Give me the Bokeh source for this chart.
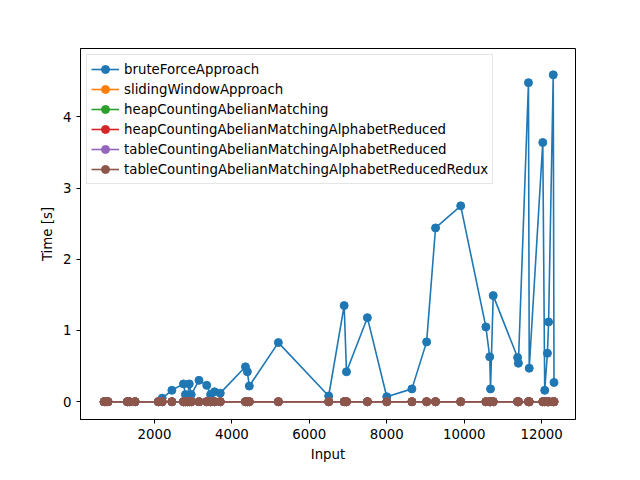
import bokeh.models
import bokeh.plotting
from bokeh.embed import file_html
from bokeh.resources import INLINE

inputs = [700, 750, 800, 1300, 1350, 1500, 2100, 2200, 2450, 2750, 2800, 2850, 2900, 2950,
          3150, 3350, 3450, 3550, 3700, 4350, 4400, 4450, 5200, 6500, 6900, 6960, 7500, 8000,
          8650, 9030, 9260, 9910, 10560, 10660, 10680, 10750, 11380, 11400, 11660, 11680,
          12030, 12080, 12150, 12180, 12300, 12320]
brute_force = [0, 0, 0, 0, 0, 0, 0, 0.05, 0.16, 0.25, 0.1, 0.05, 0.25, 0.1,
               0.3, 0.23, 0.1, 0.14, 0.12, 0.49, 0.42, 0.22, 0.83, 0.08, 1.35, 0.42, 1.18, 0.07,
               0.18, 0.84, 2.44, 2.75, 1.05, 0.63, 0.18, 1.49, 0.62, 0.54, 4.48, 0.47,
               3.64, 0.16, 0.68, 1.12, 4.59, 0.27]
zeros = [0.0] * len(inputs)

series_names = ["bruteForceApproach", "slidingWindowApproach", "heapCountingAbelianMatching",
                "heapCountingAbelianMatchingAlphabetReduced",
                "tableCountingAbelianMatchingAlphabetReduced",
                "tableCountingAbelianMatchingAlphabetReducedRedux"]
series_values = [brute_force, zeros, zeros, zeros, zeros, zeros]
colors = "#1f77b4 #ff7f0e #2ca02c #d62728 #9467bd #8c564b".split()

p = bokeh.plotting.figure(
    width=624, height=464,
    x_range=(90, 12875), y_range=(-0.25, 4.96),
    min_border_left=80, min_border_right=49, min_border_top=48, min_border_bottom=36,
    output_backend="svg", toolbar_location=None,
)

for name, vals, color in zip(series_names, series_values, colors):
    p.line(inputs, vals, line_color=color, line_width=1.6, legend_label=name)
    p.scatter(inputs, vals, size=8, fill_color=color, line_color=color, legend_label=name)

p.xaxis.axis_label = "Input"
p.yaxis.axis_label = "Time [s]"
p.xaxis.ticker = bokeh.models.FixedTicker(ticks=[2000, 4000, 6000, 8000, 10000, 12000])
p.yaxis.ticker = bokeh.models.FixedTicker(ticks=[0, 1, 2, 3, 4])
p.grid.grid_line_color = None
p.outline_line_color = "black"
p.outline_line_alpha = 1
for ax in (p.xaxis, p.yaxis):
    ax.axis_label_text_font = "DejaVu Sans"
    ax.axis_label_text_font_style = "normal"
    ax.axis_label_text_font_size = "10pt"
    ax.axis_label_text_color = "black"
    ax.major_label_text_font = "DejaVu Sans"
    ax.major_label_text_font_size = "10pt"
    ax.major_label_text_color = "black"
    ax.minor_tick_line_color = None
    ax.major_tick_in = 0
    ax.major_tick_out = 4
    ax.major_tick_line_color = "black"
    ax.axis_line_color = "black"

p.legend.location = "top_left"
p.legend.label_text_font = "DejaVu Sans"
p.legend.label_text_font_size = "10pt"
p.legend.label_text_color = "black"
p.legend.border_line_color = "#cccccc"
p.legend.background_fill_alpha = 0.8
p.legend.spacing = 0
p.legend.padding = 4
p.legend.margin = 6
p.legend.label_height = 20
p.legend.glyph_height = 20
p.legend.glyph_width = 28

open("out.html", "w").write(file_html(p, INLINE))
